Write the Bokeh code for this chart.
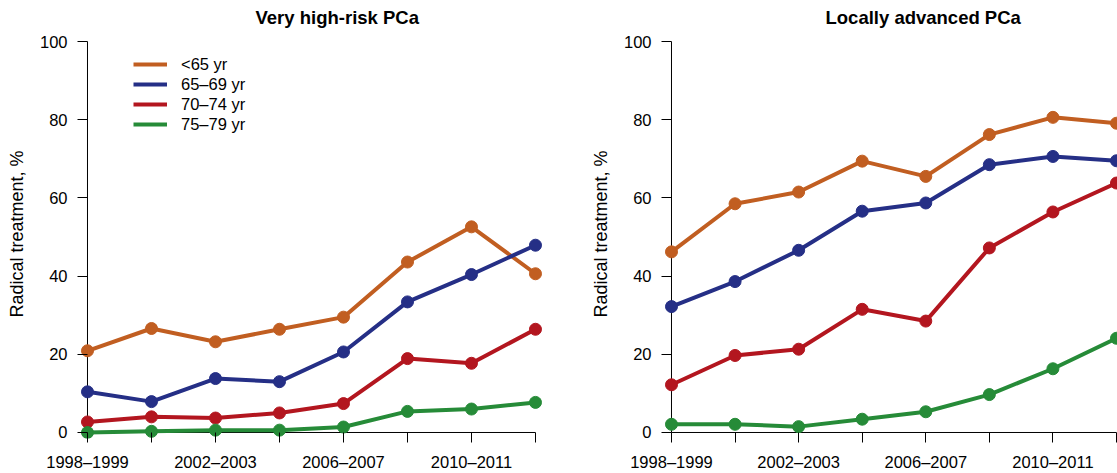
from bokeh.plotting import figure
from bokeh.layouts import row
from bokeh.models import FixedTicker, Legend, LegendItem, Range1d
from bokeh.embed import file_html
from bokeh.resources import INLINE

# ---------------- data ----------------
periods = ["1998–1999", "2000–2001", "2002–2003", "2004–2005",
           "2006–2007", "2008–2009", "2010–2011", "2012–2013"]
shown_period_labels = ["1998–1999", "", "2002–2003", "",
                       "2006–2007", "", "2010–2011", ""]
age_groups = ["<65 yr", "65–69 yr", "70–74 yr", "75–79 yr"]
y_ticks = [0, 20, 40, 60, 80, 100]
panel_titles = ["Very high-risk PCa", "Locally advanced PCa"]
y_axis_title = "Radical treatment, %"

# Very high-risk PCa
vhr_lt65 = [20.9, 26.6, 23.2, 26.4, 29.5, 43.6, 52.6, 40.6]
vhr_65_69 = [10.4, 7.9, 13.8, 13.0, 20.6, 33.4, 40.4, 47.9]
vhr_70_74 = [2.7, 4.0, 3.7, 5.0, 7.4, 18.9, 17.7, 26.4]
vhr_75_79 = [0.0, 0.3, 0.6, 0.6, 1.4, 5.4, 6.0, 7.7]

# Locally advanced PCa
la_lt65 = [46.2, 58.5, 61.5, 69.4, 65.5, 76.2, 80.6, 79.1]
la_65_69 = [32.2, 38.6, 46.6, 56.6, 58.7, 68.5, 70.6, 69.5]
la_70_74 = [12.2, 19.7, 21.3, 31.5, 28.5, 47.2, 56.4, 63.8]
la_75_79 = [2.1, 2.1, 1.5, 3.4, 5.3, 9.7, 16.3, 24.1]

# ---------------- style ----------------
colors = ["#C15E21", "#252F86", "#B3161F", "#268B38"]
FONT = "Liberation Sans"

x_idx = list(range(len(periods)))


def make_panel(title, series, width, x_start, x_end, title_offset, legend=False):
    p = figure(width=width, height=473, output_backend="svg",
               toolbar_location=None,
               x_range=Range1d(x_start, x_end),
               y_range=Range1d(-1.535, 103.07),
               min_border_left=79, min_border_right=0,
               min_border_top=29, min_border_bottom=35)
    p.outline_line_color = None
    p.xgrid.visible = False
    p.ygrid.visible = False
    p.background_fill_color = "white"
    p.border_fill_color = "white"

    p.title.text = title
    p.title.align = "left"
    p.title.offset = title_offset
    p.title.text_font = FONT
    p.title.text_font_size = "18.5px"
    p.title.text_font_style = "bold"
    p.title.text_color = "black"
    p.title.standoff = 4

    for ax in (p.xaxis[0], p.yaxis[0]):
        ax.axis_line_color = None
        ax.major_tick_line_color = "black"
        ax.major_tick_line_width = 1
        ax.minor_tick_line_color = None
        ax.major_label_text_font = FONT
        ax.major_label_text_font_size = "16.5px"
        ax.major_label_text_color = "black"

    # x axis (ticks reach from the zero line outward)
    p.xaxis.bounds = (x_idx[0], x_idx[-1])
    p.xaxis.ticker = FixedTicker(ticks=x_idx)
    p.xaxis.major_label_overrides = {i: lab for i, lab in zip(x_idx, shown_period_labels)}
    p.xaxis.major_tick_in = 6
    p.xaxis.major_tick_out = 4
    p.xaxis.major_label_standoff = 10

    # y axis
    p.yaxis.bounds = (y_ticks[0], y_ticks[-1])
    p.yaxis.ticker = FixedTicker(ticks=y_ticks)
    p.yaxis.major_tick_in = 8
    p.yaxis.major_tick_out = 2
    p.yaxis.major_label_standoff = 10
    p.yaxis.axis_label = y_axis_title
    p.yaxis.axis_label_standoff = 10
    p.yaxis.axis_label_text_font = FONT
    p.yaxis.axis_label_text_font_size = "18px"
    p.yaxis.axis_label_text_font_style = "normal"
    p.yaxis.axis_label_text_color = "black"

    # R-style axis lines through the origin
    p.segment(x0=[x_idx[0]], y0=[y_ticks[0]], x1=[x_idx[0]], y1=[y_ticks[-1]],
              line_color="black", line_width=1)
    p.segment(x0=[x_idx[0]], y0=[y_ticks[0]], x1=[x_idx[-1]], y1=[y_ticks[0]],
              line_color="black", line_width=1)

    items = []
    for name, vals, col in zip(age_groups, series, colors):
        lr = p.line(x_idx, vals, line_color=col, line_width=4)
        p.scatter(x_idx, vals, size=12, fill_color=col, line_color=col)
        items.append(LegendItem(label=name, renderers=[lr]))

    if legend:
        lg = Legend(items=items, location=(54, 304),
                    glyph_width=34, glyph_height=20, label_height=20,
                    spacing=0, padding=0, margin=0, label_standoff=14,
                    border_line_alpha=0, background_fill_alpha=0,
                    label_text_font=FONT, label_text_font_size="16.5px",
                    label_text_color="black")
        p.add_layout(lg)
    return p


p1 = make_panel(panel_titles[0], [vhr_lt65, vhr_65_69, vhr_70_74, vhr_75_79],
                width=584, x_start=-0.125, x_end=7.766,
                title_offset=176, legend=True)
p2 = make_panel(panel_titles[1], [la_lt65, la_65_69, la_70_74, la_75_79],
                width=533, x_start=-0.1258, x_end=7.0159,
                title_offset=162, legend=False)

layout = row(p1, p2)
open("out.html", "w").write(file_html(layout, INLINE))
